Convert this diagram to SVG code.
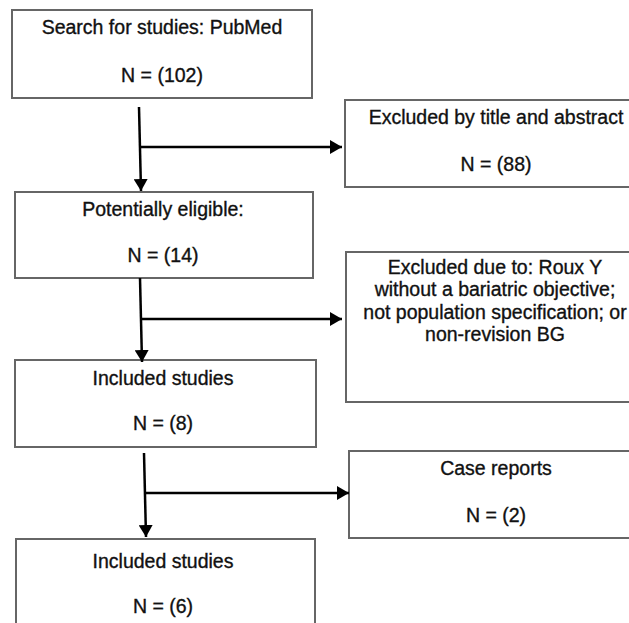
<svg xmlns="http://www.w3.org/2000/svg" width="629" height="623" viewBox="0 0 629 623">
<defs>
<style>
.box{fill:#fff;stroke:#666;stroke-width:2}
.t{font-family:"Liberation Sans",Arial,sans-serif;font-size:19.5px;fill:#111;stroke:#111;stroke-width:0.35;text-anchor:middle}
.c{stroke:#000;stroke-width:2.5;fill:none}
</style>
<marker id="ah" viewBox="0 0 12 14" refX="12" refY="7" markerWidth="12" markerHeight="14" markerUnits="userSpaceOnUse" orient="auto">
<path d="M0,0 L12,7 L0,14 Z" fill="#000"/>
</marker>
</defs>
<rect width="629" height="623" fill="#fff"/>
<g id="n1"><rect class="box" x="12" y="10" width="300" height="88"/>
<text class="t" x="162" y="34">Search for studies: PubMed</text>
<text class="t" x="162" y="82">N = (102)</text></g>
<g id="n2"><rect class="box" x="345" y="100" width="300" height="87"/>
<text class="t" x="496" y="124">Excluded by title and abstract</text>
<text class="t" x="496" y="171">N = (88)</text></g>
<g id="n3"><rect class="box" x="15" y="192" width="298" height="86"/>
<text class="t" x="163" y="216">Potentially eligible:</text>
<text class="t" x="163" y="262">N = (14)</text></g>
<g id="n4"><rect class="box" x="346" y="252" width="300" height="150"/>
<text class="t" x="495" y="274">Excluded due to: Roux Y</text>
<text class="t" x="495" y="296">without a bariatric objective;</text>
<text class="t" x="495" y="319">not population specification; or</text>
<text class="t" x="495" y="341">non-revision BG</text></g>
<g id="n5"><rect class="box" x="15" y="360" width="301" height="87"/>
<text class="t" x="163" y="385">Included studies</text>
<text class="t" x="163" y="430">N = (8)</text></g>
<g id="n6"><rect class="box" x="349" y="451" width="300" height="87"/>
<text class="t" x="496" y="475">Case reports</text>
<text class="t" x="496" y="522">N = (2)</text></g>
<g id="n7"><rect class="box" x="16" y="539" width="299" height="100"/>
<text class="t" x="163" y="568">Included studies</text>
<text class="t" x="163" y="613">N = (6)</text></g>
<g id="connectors">
<line class="c" x1="139" y1="107" x2="141" y2="191" marker-end="url(#ah)"/>
<line class="c" x1="141" y1="147" x2="342" y2="147" marker-end="url(#ah)"/>
<line class="c" x1="140" y1="278" x2="142" y2="362" marker-end="url(#ah)"/>
<line class="c" x1="142" y1="319" x2="342" y2="319" marker-end="url(#ah)"/>
<line class="c" x1="144" y1="453" x2="146" y2="537" marker-end="url(#ah)"/>
<line class="c" x1="146" y1="493" x2="349" y2="493" marker-end="url(#ah)"/>
</g>
</svg>
